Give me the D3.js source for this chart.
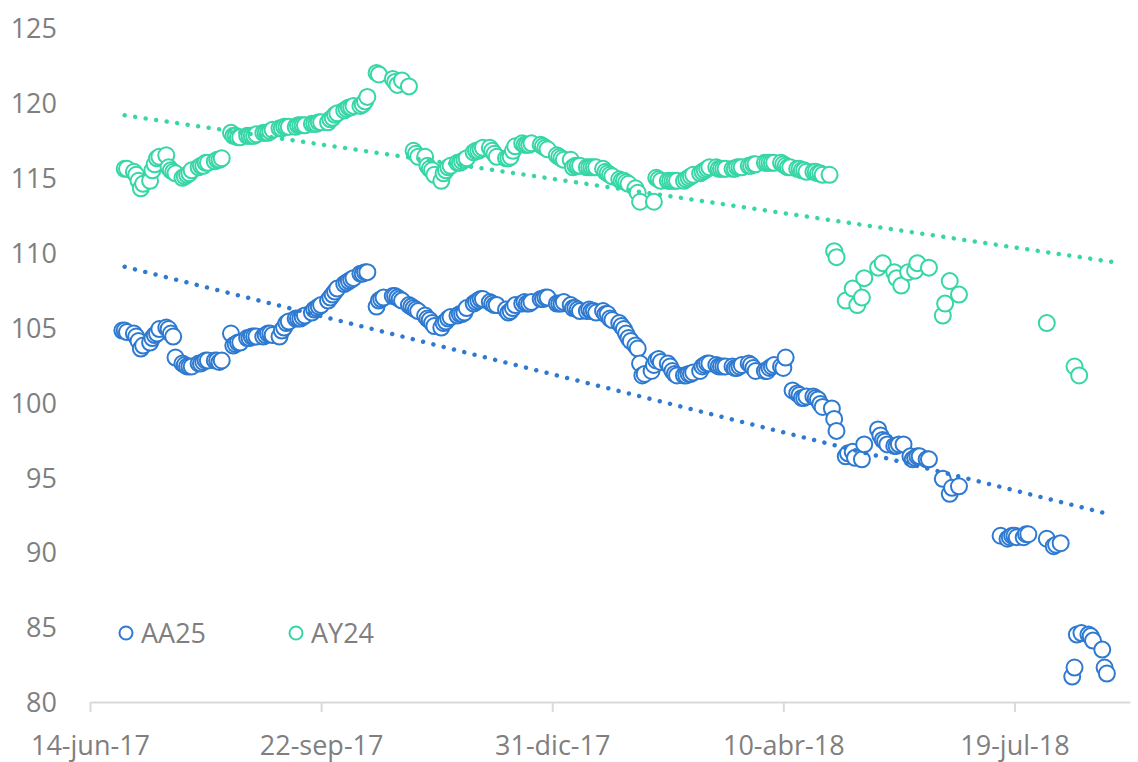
<!DOCTYPE html>
<html><head><meta charset="utf-8">
<script src="https://cdn.jsdelivr.net/npm/d3@7"></script>
<style>html,body{margin:0;padding:0;background:#fff;} svg{display:block;font-family:"Open Sans",sans-serif;}</style>
</head><body><svg id="chart" width="1138" height="762"></svg>
<script>
const seriesNames = ["AA25", "AY24"];
const seriesColors = ["#2E7AD1", "#36D6A6"];

const aa25Dates = [
  "17-06-28","17-06-29","17-06-30",
  "17-07-03","17-07-04","17-07-05","17-07-06","17-07-07","17-07-10","17-07-11","17-07-12","17-07-13","17-07-14","17-07-17","17-07-18","17-07-19","17-07-20","17-07-21","17-07-24","17-07-25","17-07-26","17-07-27","17-07-28","17-07-31",
  "17-08-01","17-08-02","17-08-03","17-08-04","17-08-07","17-08-08","17-08-09","17-08-10","17-08-14","17-08-15","17-08-16","17-08-17","17-08-18","17-08-21","17-08-22","17-08-23","17-08-24","17-08-25","17-08-28","17-08-29","17-08-30","17-08-31",
  "17-09-01","17-09-04","17-09-05","17-09-06","17-09-07","17-09-08","17-09-11","17-09-12","17-09-13","17-09-14","17-09-15","17-09-18","17-09-19","17-09-20","17-09-21","17-09-22","17-09-25","17-09-26","17-09-27","17-09-28","17-09-29",
  "17-10-02","17-10-03","17-10-04","17-10-05","17-10-06","17-10-09","17-10-10","17-10-11","17-10-12","17-10-16","17-10-17","17-10-18","17-10-19","17-10-23","17-10-24","17-10-25","17-10-26","17-10-27","17-10-30","17-10-31",
  "17-11-01","17-11-02","17-11-03","17-11-06","17-11-07","17-11-08","17-11-09","17-11-10","17-11-13","17-11-14","17-11-15","17-11-16","17-11-17","17-11-20","17-11-21","17-11-22","17-11-23","17-11-24","17-11-27","17-11-28","17-11-29","17-11-30",
  "17-12-01","17-12-04","17-12-05","17-12-06","17-12-07","17-12-11","17-12-12","17-12-13","17-12-14","17-12-15","17-12-18","17-12-19","17-12-20","17-12-21","17-12-22","17-12-26","17-12-27","17-12-28","17-12-29",
  "18-01-02","18-01-03","18-01-04","18-01-05","18-01-08","18-01-09","18-01-10","18-01-11","18-01-12","18-01-15","18-01-16","18-01-17","18-01-18","18-01-19","18-01-22","18-01-23","18-01-24","18-01-25","18-01-26","18-01-29","18-01-30","18-01-31",
  "18-02-01","18-02-02","18-02-03","18-02-05","18-02-06","18-02-07","18-02-08","18-02-09","18-02-12","18-02-13","18-02-14","18-02-15","18-02-16","18-02-19","18-02-20","18-02-21","18-02-22","18-02-23","18-02-26","18-02-27","18-02-28",
  "18-03-01","18-03-02","18-03-05","18-03-06","18-03-07","18-03-08","18-03-09","18-03-12","18-03-13","18-03-14","18-03-15","18-03-16","18-03-19","18-03-20","18-03-21","18-03-22","18-03-23","18-03-26","18-03-27","18-03-28","18-03-29",
  "18-04-02","18-04-03","18-04-04","18-04-05","18-04-06","18-04-09","18-04-10","18-04-11","18-04-14","18-04-16","18-04-17","18-04-18","18-04-19","18-04-20","18-04-23","18-04-24","18-04-25","18-04-26","18-04-27",
  "18-05-01","18-05-02","18-05-03","18-05-07","18-05-08","18-05-10","18-05-11","18-05-14","18-05-15","18-05-21","18-05-22","18-05-23","18-05-24","18-05-25","18-05-28","18-05-29","18-05-30",
  "18-06-01","18-06-04","18-06-05","18-06-06","18-06-07","18-06-08","18-06-11","18-06-12","18-06-18","18-06-21","18-06-22","18-06-25",
  "18-07-13","18-07-16","18-07-17","18-07-18","18-07-19","18-07-20","18-07-23","18-07-24","18-07-25",
  "18-08-02","18-08-05","18-08-06","18-08-08","18-08-13","18-08-14","18-08-15","18-08-17","18-08-20","18-08-21","18-08-22","18-08-26","18-08-27","18-08-28"
];
const aa25Values = [
  104.8,104.8,104.7,
  104.6,104.4,104.1,103.6,103.8,104.0,104.3,104.5,104.6,104.9,105.0,104.9,104.6,104.4,103.0,102.6,102.5,102.4,102.4,102.4,102.6,
  102.6,102.7,102.8,102.8,102.8,102.8,102.7,102.8,104.6,103.8,103.9,104.0,104.0,104.3,104.3,104.4,104.4,104.4,104.4,104.5,104.6,104.6,
  104.5,104.4,104.8,105.0,105.3,105.4,105.6,105.6,105.6,105.7,105.8,106.0,106.2,106.3,106.4,106.5,106.8,107.0,107.2,107.4,107.6,
  107.9,108.0,108.1,108.2,108.3,108.6,108.6,108.7,108.7,106.4,106.8,106.9,107.0,107.1,107.1,107.0,106.9,106.8,106.5,106.4,
  106.3,106.2,106.1,105.8,105.6,105.5,105.3,105.1,105.0,105.3,105.4,105.6,105.7,105.8,105.9,105.9,106.0,106.3,106.6,106.7,106.8,106.9,
  106.9,106.7,106.6,106.5,106.5,106.2,106.0,106.1,106.3,106.5,106.6,106.7,106.6,106.6,106.7,106.9,106.9,107.0,107.0,
  106.6,106.6,106.6,106.7,106.5,106.3,106.3,106.2,106.1,106.1,106.2,106.1,106.1,106.0,106.1,105.9,105.9,105.6,105.5,105.3,105.1,104.9,
  104.6,104.3,104.1,103.8,103.6,102.6,101.8,101.9,102.1,102.5,102.8,102.9,102.7,102.6,102.4,102.1,101.9,101.8,101.8,101.8,101.9,
  101.9,102.0,102.1,102.4,102.5,102.6,102.6,102.5,102.4,102.4,102.4,102.4,102.4,102.3,102.3,102.4,102.5,102.6,102.5,102.3,102.1,
  102.1,102.1,102.3,102.4,102.5,102.4,102.3,103.0,100.8,100.6,100.5,100.3,100.3,100.4,100.4,100.3,100.2,99.9,99.7,
  99.6,98.9,98.1,96.4,96.6,96.7,96.3,96.2,97.2,98.2,97.8,97.5,97.4,97.2,97.1,97.1,97.2,
  97.2,96.4,96.2,96.3,96.4,96.4,96.2,96.2,94.9,93.9,94.3,94.4,
  91.1,90.9,91.0,91.1,91.1,91.0,91.0,91.2,91.2,
  90.9,90.4,90.5,90.6,81.7,82.3,84.5,84.6,84.5,84.4,84.1,83.5,82.3,81.9
];

const ay24Dates = [
  "17-06-29","17-06-30",
  "17-07-03","17-07-04","17-07-05","17-07-06","17-07-07","17-07-10","17-07-11","17-07-12","17-07-13","17-07-14","17-07-17","17-07-18","17-07-19","17-07-20","17-07-21","17-07-24","17-07-25","17-07-26","17-07-27","17-07-28","17-07-31",
  "17-08-01","17-08-02","17-08-03","17-08-04","17-08-07","17-08-08","17-08-09","17-08-10","17-08-14","17-08-15","17-08-16","17-08-17","17-08-18","17-08-21","17-08-22","17-08-23","17-08-24","17-08-25","17-08-28","17-08-29","17-08-30","17-08-31",
  "17-09-01","17-09-04","17-09-05","17-09-06","17-09-07","17-09-08","17-09-11","17-09-12","17-09-13","17-09-14","17-09-15","17-09-18","17-09-19","17-09-20","17-09-21","17-09-22","17-09-25","17-09-26","17-09-27","17-09-28","17-09-29",
  "17-10-02","17-10-03","17-10-04","17-10-05","17-10-06","17-10-09","17-10-10","17-10-11","17-10-12","17-10-16","17-10-17","17-10-23","17-10-24","17-10-25","17-10-27","17-10-30",
  "17-11-01","17-11-02","17-11-03","17-11-06","17-11-07","17-11-08","17-11-09","17-11-10","17-11-13","17-11-14","17-11-15","17-11-16","17-11-17","17-11-20","17-11-21","17-11-22","17-11-23","17-11-24","17-11-27","17-11-28","17-11-29","17-11-30",
  "17-12-01","17-12-04","17-12-05","17-12-06","17-12-07","17-12-11","17-12-12","17-12-13","17-12-14","17-12-15","17-12-18","17-12-19","17-12-20","17-12-21","17-12-22","17-12-26","17-12-27","17-12-28","17-12-29",
  "18-01-02","18-01-03","18-01-04","18-01-05","18-01-08","18-01-09","18-01-10","18-01-11","18-01-12","18-01-15","18-01-16","18-01-17","18-01-18","18-01-19","18-01-22","18-01-23","18-01-24","18-01-25","18-01-26","18-01-29","18-01-30","18-01-31",
  "18-02-01","18-02-02","18-02-05","18-02-06","18-02-07","18-02-13","18-02-14","18-02-15","18-02-16","18-02-19","18-02-20","18-02-21","18-02-22","18-02-23","18-02-26","18-02-27","18-02-28",
  "18-03-01","18-03-02","18-03-05","18-03-06","18-03-07","18-03-08","18-03-09","18-03-12","18-03-13","18-03-14","18-03-15","18-03-16","18-03-19","18-03-20","18-03-21","18-03-22","18-03-23","18-03-26","18-03-27","18-03-28","18-03-29",
  "18-04-02","18-04-03","18-04-04","18-04-05","18-04-06","18-04-09","18-04-10","18-04-11","18-04-12","18-04-13","18-04-16","18-04-17","18-04-18","18-04-19","18-04-20","18-04-23","18-04-24","18-04-25","18-04-26","18-04-27","18-04-30",
  "18-05-02","18-05-03","18-05-07","18-05-10","18-05-12","18-05-14","18-05-15","18-05-21","18-05-23","18-05-28","18-05-29","18-05-31",
  "18-06-03","18-06-06","18-06-07","18-06-12","18-06-18","18-06-19","18-06-21","18-06-25",
  "18-08-02","18-08-14","18-08-16"
];
const ay24Values = [
  115.6,115.6,
  115.4,115.2,114.8,114.3,114.6,114.8,115.5,115.9,116.3,116.4,116.5,115.7,115.5,115.4,115.3,115.0,115.1,115.2,115.3,115.5,115.7,
  115.8,115.8,116.0,116.0,116.1,116.2,116.2,116.3,118.0,117.8,117.8,117.7,117.7,117.8,117.8,117.8,117.8,117.9,118.0,118.0,118.0,118.1,
  118.2,118.3,118.3,118.4,118.4,118.4,118.4,118.5,118.5,118.5,118.5,118.6,118.6,118.6,118.7,118.7,118.7,118.9,119.0,119.2,119.3,
  119.5,119.6,119.7,119.7,119.8,119.8,119.9,120.1,120.4,122.0,121.9,121.6,121.4,121.2,121.5,121.1,
  116.8,116.6,116.4,116.4,115.8,115.6,115.5,115.2,114.8,115.3,115.5,115.7,115.8,116.0,116.0,116.1,116.2,116.3,116.7,116.8,116.8,116.9,
  117.0,117.0,116.8,116.6,116.4,116.3,116.3,116.4,116.8,117.1,117.3,117.2,117.2,117.2,117.3,117.2,117.1,117.0,116.9,
  116.5,116.4,116.3,116.2,116.2,115.7,115.8,115.8,115.8,115.7,115.7,115.7,115.7,115.7,115.6,115.4,115.3,115.2,115.1,114.9,114.8,114.8,
  114.7,114.6,114.3,114.0,113.4,113.4,115.0,114.9,114.8,114.8,114.8,114.8,114.8,114.8,114.8,114.9,115.0,
  115.1,115.2,115.3,115.4,115.5,115.6,115.7,115.7,115.6,115.6,115.6,115.6,115.6,115.6,115.7,115.7,115.7,115.8,115.8,115.9,115.9,
  116.0,116.0,116.0,116.0,116.0,116.0,115.9,115.8,115.7,115.7,115.6,115.6,115.5,115.5,115.4,115.4,115.4,115.3,115.3,115.2,115.2,
  110.1,109.7,106.8,107.6,106.5,107.0,108.3,109.0,109.3,108.7,108.3,107.8,
  108.7,108.8,109.3,109.0,105.8,106.6,108.1,107.2,
  105.3,102.4,101.8
];

// Linear trend lines (start and end values)
const trendDates = ["17-06-29", "18-08-30"];
const aa25Trend = [109.06, 92.5];
const ay24Trend = [119.17, 109.39];

const xDomain = ["17-06-14", "18-09-07"];
const xTickDates = ["17-06-14", "17-09-22", "17-12-31", "18-04-10", "18-07-19"];
const yDomain = [80, 125];
const yTicks = [80, 85, 90, 95, 100, 105, 110, 115, 120, 125];

if (aa25Dates.length !== aa25Values.length || ay24Dates.length !== ay24Values.length) {
  console.error("length mismatch", aa25Dates.length, aa25Values.length, ay24Dates.length, ay24Values.length);
}

const parse = d3.timeParse("%y-%m-%d");
const es = d3.timeFormatLocale({
  dateTime: "%A, %e de %B de %Y, %X", date: "%d/%m/%Y", time: "%H:%M:%S", periods: ["AM", "PM"],
  days: ["domingo","lunes","martes","miércoles","jueves","viernes","sábado"],
  shortDays: ["dom","lun","mar","mié","jue","vie","sáb"],
  months: ["enero","febrero","marzo","abril","mayo","junio","julio","agosto","septiembre","octubre","noviembre","diciembre"],
  shortMonths: ["ene","feb","mar","abr","may","jun","jul","ago","sep","oct","nov","dic"]
});
const fmt = es.format("%d-%b-%y");

const svg = d3.select("#chart");
const x = d3.scaleTime().domain(xDomain.map(parse)).range([90, 1130]);
const y = d3.scaleLinear().domain(yDomain).range([702, 28]);

const textColor = "#7f7f7f";
const fontSize = 27;

// Y axis (labels only)
const yAxis = svg.append("g").attr("transform", "translate(57,0)")
  .call(d3.axisLeft(y).tickValues(yTicks).tickSize(0).tickPadding(0).tickFormat(d3.format("d")));
yAxis.select(".domain").remove();
yAxis.selectAll("text").attr("fill", textColor).style("font-size", fontSize + "px")
  .style("font-family", "'Open Sans', sans-serif").attr("dy", "0.36em");

// X axis
const xAxis = svg.append("g").attr("transform", "translate(0,702)")
  .call(d3.axisBottom(x).tickValues(xTickDates.map(parse)).tickFormat(fmt).tickSize(10).tickSizeOuter(0));
xAxis.select(".domain").attr("stroke", "#d9d9d9").attr("stroke-width", 2);
xAxis.selectAll(".tick line").attr("stroke", "#d9d9d9").attr("stroke-width", 2);
xAxis.selectAll("text").attr("fill", textColor).style("font-size", fontSize + "px")
  .style("font-family", "'Open Sans', sans-serif").attr("y", 53).attr("dy", 0);

const series = [
  { name: seriesNames[0], color: seriesColors[0], dates: aa25Dates, values: aa25Values, trend: aa25Trend },
  { name: seriesNames[1], color: seriesColors[1], dates: ay24Dates, values: ay24Values, trend: ay24Trend }
];

series.forEach(s => {
  const pts = s.dates.map((d, i) => ({ date: parse(d), value: s.values[i] }));
  svg.append("g").selectAll("circle").data(pts).join("circle")
    .attr("cx", d => x(d.date)).attr("cy", d => y(d.value)).attr("r", 8)
    .attr("fill", "#fff").attr("stroke", s.color).attr("stroke-width", 2);
});

const line = d3.line().x(d => x(d.date)).y(d => y(d.value));
series.forEach(s => {
  const tp = trendDates.map((d, i) => ({ date: parse(d), value: s.trend[i] }));
  svg.append("path").datum(tp).attr("d", line)
    .attr("fill", "none").attr("stroke", s.color).attr("stroke-width", 4.5)
    .attr("stroke-linecap", "round").attr("stroke-dasharray", "0.01 10.6");
});

// Legend
const legendItems = [{ cx: 126, tx: 141 }, { cx: 296, tx: 311 }];
series.forEach((s, i) => {
  const g = svg.append("g");
  g.append("circle").attr("cx", legendItems[i].cx).attr("cy", 633).attr("r", 6.5)
    .attr("fill", "#fff").attr("stroke", s.color).attr("stroke-width", 2);
  g.append("text").attr("x", legendItems[i].tx).attr("y", 633).attr("dy", "0.36em")
    .attr("fill", textColor).style("font-size", fontSize + "px").text(s.name);
});
</script></body></html>
